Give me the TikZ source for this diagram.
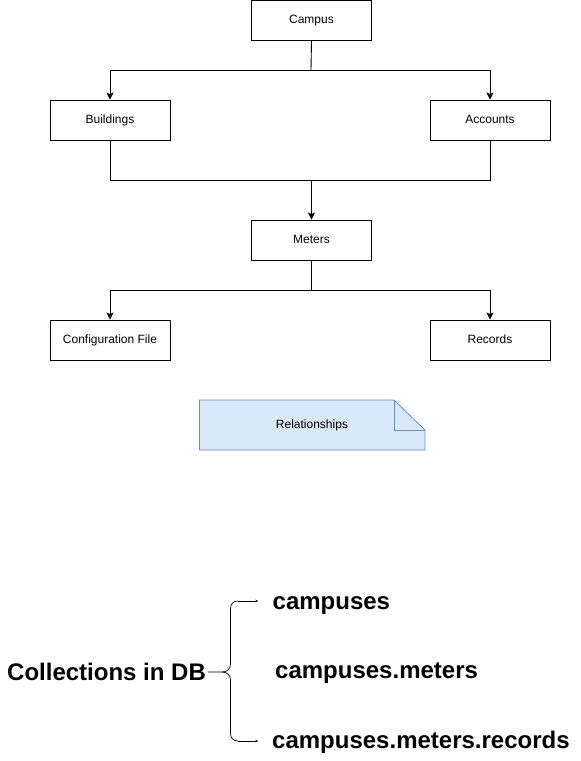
\documentclass[tikz,border=0pt]{standalone}
\usepackage{fontspec}
\setmainfont{Liberation Sans}
\usetikzlibrary{arrows.meta}
\definecolor{notefill}{HTML}{DAE8FC}
\definecolor{notedraw}{HTML}{6C8EBF}
\begin{document}
\begin{tikzpicture}[x=1pt,y=-1pt,
  box/.style={draw, line width=0.9pt, minimum width=120pt, minimum height=40pt, inner sep=0pt, text height=9pt, text depth=2pt, font=\fontsize{12}{14}\selectfont},
  conn/.style={line width=0.9pt, -{Stealth[length=7pt,width=7pt,inset=1.5pt]}},
  plainline/.style={line width=0.9pt},
  bracearm/.style={line width=0.7pt, -{Stealth[length=2.5pt,width=2.5pt]}},
  bigtext/.style={font=\fontsize{24}{28}\selectfont\bfseries, inner sep=0pt, anchor=base west}]
\useasboundingbox (0,0) rectangle (581,761);
% boxes
\node[box] (campus) at (311.5,20) {Campus};
\node[box] (buildings) at (110,120) {Buildings};
\node[box] (accounts) at (490,120) {Accounts};
\node[box] (meters) at (311.5,240) {Meters};
\node[box] (config) at (110,340) {Configuration File};
\node[box] (records) at (490,340) {Records};
% connectors
\coordinate (j1) at (311,70);
\coordinate (j2) at (311.5,180);
\coordinate (j3) at (311.5,290);
\draw[plainline] (campus.south) -- (j1);
\draw[conn] (j1) -| (buildings.north);
\draw[conn] (j1) -| (accounts.north);
\draw[plainline] (buildings.south) |- (j2);
\draw[plainline] (accounts.south) |- (j2);
\draw[conn] (j2) -- (meters.north);
\draw[plainline] (meters.south) -- (j3);
\draw[conn] (j3) -| (config.north);
\draw[conn] (j3) -| (records.north);
% note
\draw[line width=0.8pt, draw=notedraw, fill=notefill]
  (199.5,400) -- (394,400) -- (425,430) -- (425,450) -- (199.5,450) -- cycle;
\draw[line width=0.8pt, draw=notedraw] (394,400) -- (394,430) -- (425,430);
\node[inner sep=0pt, text height=9pt, text depth=2pt, font=\fontsize{12}{14}\selectfont] (note) at (312,425) {Relationships};
% collections
\node[bigtext] (coll) at (7,680) {Collections in DB};
\node[bigtext] (c1) at (272.5,609) {campuses};
\node[bigtext] (c2) at (275,678) {campuses.meters};
\node[bigtext] (c3) at (272,748) {campuses.meters.records};
\coordinate (bt) at (258,601);
\coordinate (bb) at (258,741);
\coordinate (bs) at (208,672);
\draw[line width=0.7pt] (bs) -- (222,672)
  .. controls (227,672) and (230.5,669) .. (230.5,664) -- (230.5,609)
  .. controls (230.5,604) and (233,601) .. (238,601);
\draw[bracearm] (238,601) -- (bt);
\draw[line width=0.7pt] (222,672)
  .. controls (227,672) and (230.5,675) .. (230.5,680) -- (230.5,733)
  .. controls (230.5,738) and (233,741) .. (238,741);
\draw[bracearm] (238,741) -- (bb);
\end{tikzpicture}
\end{document}
